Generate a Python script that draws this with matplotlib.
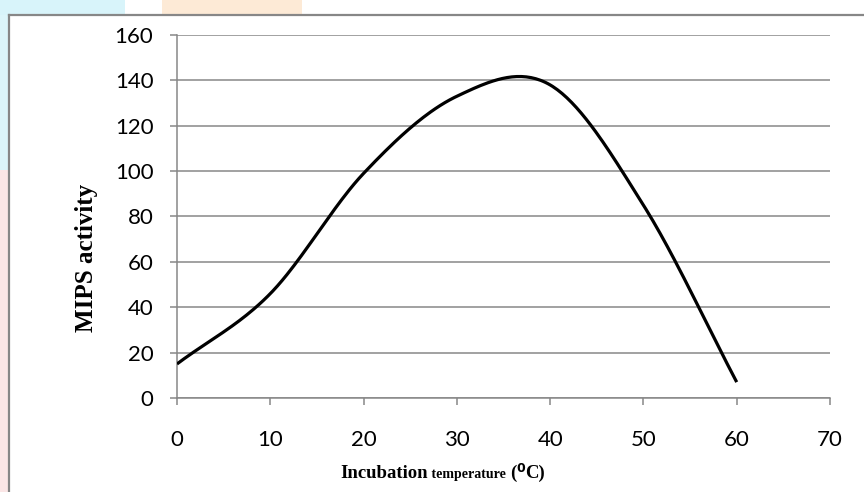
import numpy as np
import matplotlib.pyplot as plt
from matplotlib.patches import Rectangle

# Données
temperature = [0, 10, 20, 30, 40, 50, 60]
activity = [15, 46, 99, 133, 138, 85, 7]
y_ticks = [0, 20, 40, 60, 80, 100, 120, 140, 160]
x_ticks = [0, 10, 20, 30, 40, 50, 60, 70]

GRAY = "#878787"
W, H = 864, 492


def smooth(xs, ys, n=40):
    # courbe lissée type Excel (Hermite / Catmull-Rom)
    xs = np.asarray(xs, float)
    ys = np.asarray(ys, float)
    m = np.zeros_like(ys)
    m[1:-1] = (ys[2:] - ys[:-2]) / (xs[2:] - xs[:-2])
    m[0] = (ys[1] - ys[0]) / (xs[1] - xs[0])
    m[-1] = (ys[-1] - ys[-2]) / (xs[-1] - xs[-2])
    px, py = [], []
    for i in range(len(xs) - 1):
        h = xs[i + 1] - xs[i]
        t = np.linspace(0, 1, n)
        h00 = 2 * t**3 - 3 * t**2 + 1
        h10 = t**3 - 2 * t**2 + t
        h01 = -2 * t**3 + 3 * t**2
        h11 = t**3 - t**2
        px.extend(xs[i] + t * h)
        py.extend(h00 * ys[i] + h10 * h * m[i] + h01 * ys[i + 1] + h11 * h * m[i + 1])
    return px, py


fig = plt.figure(figsize=(W / 100, H / 100), dpi=100)
fig.patch.set_facecolor("white")

# bandes colorées du fond (hors cadre)
fig.add_artist(Rectangle((0, 1 - 170 / H), 9 / W, 170 / H, transform=fig.transFigure,
                         color="#dcf5fa", lw=0, zorder=0))
fig.add_artist(Rectangle((0, 0), 9 / W, 1 - 170 / H, transform=fig.transFigure,
                         color="#fbe6e6", lw=0, zorder=0))
fig.add_artist(Rectangle((0, 1 - 15 / H), 125 / W, 15 / H, transform=fig.transFigure,
                         color="#d8f4fa", lw=0, zorder=0))
fig.add_artist(Rectangle((162 / W, 1 - 15 / H), 140 / W, 15 / H, transform=fig.transFigure,
                         color="#fdead6", lw=0, zorder=0))
# cadre gris
fig.add_artist(plt.Line2D([9 / W, 9 / W], [0, 1 - 15 / H], transform=fig.transFigure,
                          color=GRAY, lw=1.6))
fig.add_artist(plt.Line2D([9 / W, 1], [1 - 15 / H, 1 - 15 / H], transform=fig.transFigure,
                          color=GRAY, lw=1.6))

ax = fig.add_axes([177 / W, 1 - 398 / H, (830 - 177) / W, (398 - 35) / H])
sx, sy = smooth(temperature, activity)
ax.plot(sx, sy, color="black", lw=2.3, solid_capstyle="butt", zorder=3)

ax.set_xlim(0, 70)
ax.set_ylim(0, 160)
ax.set_xticks(x_ticks)
ax.set_yticks(y_ticks)
ax.grid(axis="y", color=GRAY, lw=1.1)
ax.set_axisbelow(True)
for s in ["top", "right"]:
    ax.spines[s].set_visible(False)
for s in ["left", "bottom"]:
    ax.spines[s].set_color(GRAY)
    ax.spines[s].set_linewidth(1.1)
ax.tick_params(axis="both", direction="out", length=5, width=1.1, color=GRAY,
               labelsize=16, labelcolor="black")
ax.tick_params(axis="y", pad=12)
ax.tick_params(axis="x", pad=18)
for lab in ax.get_xticklabels() + ax.get_yticklabels():
    lab.set_family("Lato")

serif = "Liberation Serif"
fig.text(86 / W, 1 - 258 / H, "MIPS activity", rotation=90, ha="center", va="center",
         family=serif, weight="bold", fontsize=18)

# titre de l'axe x en plusieurs morceaux
base = 1 - 478 / H
pieces = [("Incubation", serif, 13.5, 0),
          (" temperature ", serif, 10, 0),
          ("(", serif, 13.5, 0),
          ("0", "DejaVu Sans", 9, 6),
          ("C)", serif, 13.5, 0)]
fig.canvas.draw()
renderer = fig.canvas.get_renderer()
x = 340.7
for txt, fam, size, rise in pieces:
    t = fig.text(x / W, base + rise / H, txt, ha="left", va="baseline",
                 family=fam, weight="bold", fontsize=size)
    bb = t.get_window_extent(renderer)
    x = bb.x1

fig.savefig("out.png", dpi=100)
